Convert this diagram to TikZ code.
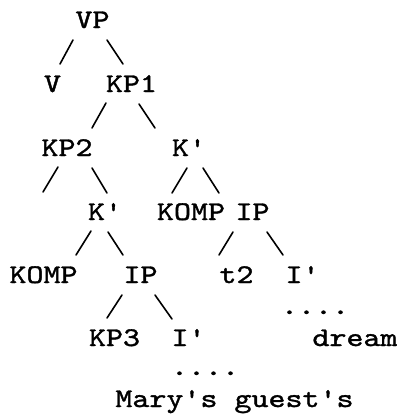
\documentclass[tikz,border=0pt]{standalone}
\usepackage{graphicx}
\usepackage{fontspec}
\newfontfamily\twfont{lmmono10-regular.otf}[AutoFakeBold=1.2]
\newcommand{\tw}[1]{\scalebox{1.2}[1]{#1}}
\tikzset{
  lbl/.style={anchor=base, inner sep=0pt, font=\twfont\bfseries\fontsize{27}{27}\selectfont},
  br/.style={line width=1.6pt, line cap=round}
}
\begin{document}
\begin{tikzpicture}[x=1pt,y=-1pt]
\useasboundingbox[fill=white] (0,0) rectangle (397,416);
% nodes
\node[lbl] (vp)    at (92.5,28)  {\tw{VP}};
\node[lbl] (v)     at (52.5,92)  {\tw{V}};
\node[lbl] (kp1)   at (131.5,92) {\tw{KP1}};
\node[lbl] (kp2)   at (67,156)   {\tw{KP2}};
\node[lbl] (kr)    at (189,156)  {\tw{K'}};
\node[lbl] (km)    at (105,220)  {\tw{K'}};
\node[lbl] (kompr) at (191,220)  {\tw{KOMP}};
\node[lbl] (ipr)   at (252.5,220){\tw{IP}};
\node[lbl] (kompl) at (43.5,283) {\tw{KOMP}};
\node[lbl] (ipl)   at (140.5,283){\tw{IP}};
\node[lbl] (t2)    at (236.5,283){\tw{t2}};
\node[lbl] (ir)    at (302.5,283){\tw{I'}};
\node[lbl] (kp3)   at (114.5,346){\tw{KP3}};
\node[lbl] (il)    at (188.5,346){\tw{I'}};
\node[lbl] (dream) at (355,346)  {\tw{dream}};
\node[lbl] (dotsr) at (315,314)  {\tw{....}};
\node[lbl] (dotsl) at (205,375)  {\tw{....}};
\node[lbl] (mary)  at (234.5,407){\tw{Mary's guest's}};
% slash end points
\coordinate (a1) at (73,40);   \coordinate (b1) at (60,64);
\coordinate (a2) at (107,40);  \coordinate (b2) at (123,64);
\coordinate (a3) at (106,103); \coordinate (b3) at (92,128);
\coordinate (a4) at (139,104); \coordinate (b4) at (155,128);
\coordinate (a5) at (58,167);  \coordinate (b5) at (43,192);
\coordinate (a6) at (92,168);  \coordinate (b6) at (107,193);
\coordinate (a7) at (187,168); \coordinate (b7) at (172,193);
\coordinate (a8) at (203,168); \coordinate (b8) at (219,193);
\coordinate (a9) at (91,231);  \coordinate (b9) at (76,255);
\coordinate (a10) at (108,232);\coordinate (b10) at (123,255);
\coordinate (a11) at (233,232);\coordinate (b11) at (219,255);
\coordinate (a12) at (267,232);\coordinate (b12) at (283,255);
\coordinate (a13) at (122,295);\coordinate (b13) at (107,318);
\coordinate (a14) at (155,295);\coordinate (b14) at (172,319);
\foreach \i in {1,...,14} { \draw[br] (a\i) -- (b\i); }
\end{tikzpicture}
\end{document}
